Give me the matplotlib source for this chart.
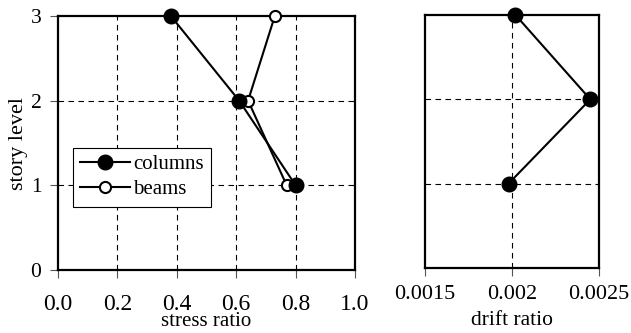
import numpy as np
import matplotlib
matplotlib.use("Agg")
from matplotlib import pyplot as plt

# values
story = [3, 2, 1]
col_stress = [0.38, 0.61, 0.80]
beam_stress = [0.73, 0.64, 0.77]
drift = [0.00202, 0.00245, 0.00198]

stress_ticks = [0.0, 0.2, 0.4, 0.6, 0.8, 1.0]
drift_ticks = [0.0015, 0.002, 0.0025]
drift_labels = ["0.0015", "0.002", "0.0025"]
story_ticks = [0, 1, 2, 3]

plt.rcParams['font.family'] = ['Liberation Serif', 'DejaVu Serif']
plt.rcParams['font.size'] = 15

fig = plt.figure(figsize=(6.31, 3.33), dpi=100)
ax1 = fig.add_axes([58 / 631, 1 - 270 / 333, 297 / 631, 254 / 333])
ax2 = fig.add_axes([425 / 631, 1 - 268 / 333, 174 / 631, 253 / 333])

# left: stress ratio
ax1.plot(col_stress, story, color='black', lw=1.5, marker='o', ms=10.5,
         mfc='black', mec='black', label='columns', clip_on=False, zorder=4)
ax1.plot(beam_stress, story, color='black', lw=1.5, marker='o', ms=8,
         mfc='white', mec='black', mew=1.5, label='beams', clip_on=False, zorder=3)
ax1.set_xlim(0, 1)
ax1.set_ylim(0, 3)
ax1.set_xticks(stress_ticks)
ax1.set_xticklabels([f"{t:.1f}" for t in stress_ticks], fontsize=17)
ax1.set_yticks(story_ticks)
ax1.set_yticklabels([str(t) for t in story_ticks], fontsize=15.5)
for x in stress_ticks[1:-1]:
    ax1.axvline(x, color='black', lw=0.8, ls=(0, (5, 4)), zorder=1)
for y in [1, 2]:
    ax1.axhline(y, color='black', lw=0.8, ls=(0, (5, 4)), zorder=1)
ax1.set_xlabel('stress ratio', labelpad=-2.5)
ax1.set_ylabel('story level', labelpad=2, fontsize=16)
leg = ax1.legend(loc='lower left', bbox_to_anchor=(0.05, 0.25), fancybox=False,
                 framealpha=1, edgecolor='black', handlelength=2.4,
                 handletextpad=0.15, borderpad=0.35, labelspacing=0.25,
                 borderaxespad=0)
leg.get_frame().set_linewidth(0.8)

# right: drift ratio
ax2.plot(drift, story, color='black', lw=1.5, marker='o', ms=10.5,
         mfc='black', mec='black', clip_on=False, zorder=4)
ax2.set_xlim(0.0015, 0.0025)
ax2.set_ylim(0, 3)
ax2.set_xticks(drift_ticks)
ax2.set_xticklabels(drift_labels, fontsize=16)
ax2.set_yticks([])
ax2.axvline(0.002, color='black', lw=0.8, ls=(0, (5, 4)), zorder=1)
for y in [1, 2]:
    ax2.axhline(y, color='black', lw=0.8, ls=(0, (5, 4)), zorder=1)
ax2.set_xlabel('drift ratio', labelpad=5, fontsize=15.5)

for ax in (ax1, ax2):
    for s in ax.spines.values():
        s.set_linewidth(1.6)
    ax.tick_params(direction='out', length=6, width=0.8, color='#555555')
ax1.tick_params(axis='x', pad=11.5)
ax1.tick_params(axis='y', pad=6)
ax2.tick_params(axis='x', pad=6)

fig.savefig('out.png', dpi=100)
